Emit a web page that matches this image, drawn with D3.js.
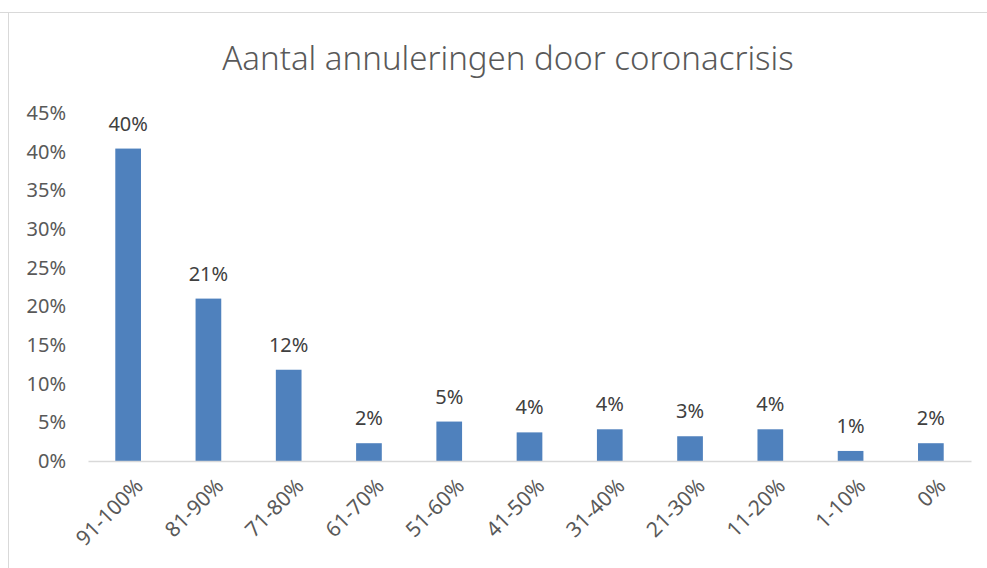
<!DOCTYPE html>
<html>
<head>
<meta charset="utf-8">
<script src="https://cdn.jsdelivr.net/npm/d3@7"></script>
<style>
  html, body { margin: 0; padding: 0; background: #fff; }
  svg { display: block; font-family: 'Noto Sans', 'Open Sans', sans-serif; }
</style>
</head>
<body>
<svg id="chart" width="987" height="568"></svg>
<script>
// categories and values (share of cancellations)
const categories = ['91-100%', '81-90%', '71-80%', '61-70%', '51-60%', '41-50%', '31-40%', '21-30%', '11-20%', '1-10%', '0%'];
const values = [0.404, 0.210, 0.118, 0.023, 0.051, 0.037, 0.041, 0.032, 0.041, 0.013, 0.023];
const yTicks = [0, 0.05, 0.10, 0.15, 0.20, 0.25, 0.30, 0.35, 0.40, 0.45];
const title = 'Aantal annuleringen door coronacrisis';

const svg = d3.select('#chart');
const margin = { top: 113, right: 16, bottom: 107, left: 88 };
const width = 987 - margin.left - margin.right;
const height = 568 - margin.top - margin.bottom;

// chart frame (light border top + left)
svg.append('line')
  .attr('x1', 0).attr('x2', 987).attr('y1', 12.5).attr('y2', 12.5)
  .attr('stroke', '#d9d9d9');
svg.append('line')
  .attr('x1', 8.5).attr('x2', 8.5).attr('y1', 12).attr('y2', 568)
  .attr('stroke', '#d9d9d9');

svg.append('text')
  .attr('x', 508).attr('y', 70)
  .attr('text-anchor', 'middle')
  .attr('font-size', '33px')
  .attr('font-weight', 300)
  .attr('fill', '#595959')
  .text(title);

const g = svg.append('g').attr('transform', `translate(${margin.left},${margin.top})`);

const x = d3.scaleBand().domain(categories).range([0, width]).paddingInner(0.68).paddingOuter(0.34);
const y = d3.scaleLinear().domain([0, 0.45]).range([height, 0]);

// y axis labels
const yAxis = g.append('g')
  .call(d3.axisLeft(y).tickValues(yTicks).tickFormat(d3.format('.0%')).tickSize(0).tickPadding(22));
yAxis.select('.domain').remove();
yAxis.selectAll('text')
  .attr('font-size', '20px')
  .attr('fill', '#595959')
  .style('font-family', "'Noto Sans', sans-serif");

// bars
g.selectAll('.bar')
  .data(values)
  .enter()
  .append('rect')
  .attr('x', (d, i) => x(categories[i]))
  .attr('y', (d) => y(d))
  .attr('width', x.bandwidth())
  .attr('height', (d) => height - y(d))
  .attr('fill', '#4f81bd');

// data labels
g.selectAll('.lbl')
  .data(values)
  .enter()
  .append('text')
  .attr('x', (d, i) => x(categories[i]) + x.bandwidth() / 2)
  .attr('y', (d) => y(d) - 18)
  .attr('text-anchor', 'middle')
  .attr('font-size', '20px')
  .attr('fill', '#404040')
  .text((d) => d3.format('.0%')(d));

// x axis
const xAxis = g.append('g')
  .attr('transform', `translate(0,${height})`)
  .call(d3.axisBottom(x).tickSize(0).tickSizeOuter(0));
xAxis.select('.domain').attr('stroke', '#d9d9d9').attr('stroke-width', 1.5);
xAxis.selectAll('text')
  .attr('font-size', '21px')
  .attr('fill', '#595959')
  .style('font-family', "'Noto Sans', sans-serif")
  .attr('text-anchor', 'end')
  .attr('dy', '0.35em')
  .attr('transform', 'translate(9,19) rotate(-45)');
</script>
</body>
</html>
